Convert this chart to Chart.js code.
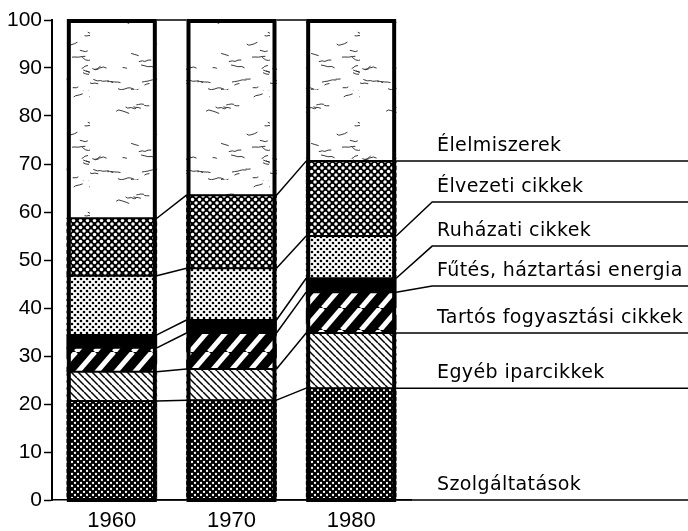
<!DOCTYPE html>
<html>
<head>
<meta charset="utf-8">
<script src="https://cdn.jsdelivr.net/npm/chart.js@4.4.1/dist/chart.umd.min.js"></script>
<style>
    html, body { margin: 0; padding: 0; background: #fff; }
    #caixa { width: 688px; height: 531px; position: relative; }
</style>
</head>
<body>
<div id="caixa"><canvas id="grafico"></canvas></div>
<script>
// dados (% do consumo), de baixo para cima
const anos = ["1960", "1970", "1980"];
const categorias = ["Szolgáltatások", "Egyéb iparcikkek", "Tartós fogyasztási cikkek",
    "Fűtés, háztartási energia", "Ruházati cikkek", "Élvezeti cikkek", "Élelmiszerek"];
const szolgaltatasok = [20.6, 20.8, 23.3];
const egyebIparcikkek = [6.1, 6.5, 11.5];
const tartosCikkek = [5.0, 7.5, 8.5];
const futesEnergia = [2.7, 2.7, 2.9];
const ruhazatiCikkek = [12.3, 10.8, 8.8];
const elvezetiCikkek = [12.0, 15.2, 15.6];
const elelmiszerek = [41.3, 36.5, 29.4];
const ticksY = [0, 10, 20, 30, 40, 50, 60, 70, 80, 90, 100];

const series = [szolgaltatasok, egyebIparcikkek, tartosCikkek, futesEnergia,
    ruhazatiCikkek, elvezetiCikkek, elelmiszerek];

// altura (na escala do eixo) da linha de cada rótulo à direita
const nivelRotulo = [0, 23.3, 34.8, 44.6, 52.9, 62.1, 70.6];

// ---- texturas ----
function textura(w, h, desenhar) {
    const c = document.createElement("canvas");
    c.width = w;
    c.height = h;
    const g = c.getContext("2d");
    desenhar(g, w, h);
    return g.createPattern(c, "repeat");
}

function pontos(g, t, r, cor) {
    g.fillStyle = cor;
    [[0, 0], [t, 0], [0, t], [t, t], [t / 2, t / 2]].forEach(p => {
        g.beginPath();
        g.arc(p[0], p[1], r, 0, Math.PI * 2);
        g.fill();
    });
}

const padroes = [
    // Szolgáltatások
    textura(6, 6, (g, w) => {
        g.fillStyle = "#000"; g.fillRect(0, 0, w, w);
        pontos(g, w, 1.15, "#fff");
    }),
    // Egyéb iparcikkek
    textura(7, 7, (g, w, h) => {
        g.fillStyle = "#fff"; g.fillRect(0, 0, w, h);
        g.strokeStyle = "#000"; g.lineWidth = 1.5;
        for (let k = -1; k <= 1; k++) {
            g.beginPath(); g.moveTo(k * w, 0); g.lineTo(k * w + w, h); g.stroke();
        }
    }),
    // Tartós fogyasztási cikkek
    textura(19, 22, (g, w, h) => {
        g.fillStyle = "#000"; g.fillRect(0, 0, w, h);
        g.strokeStyle = "#fff"; g.lineWidth = 5;
        for (let k = -1; k <= 1; k++) {
            g.beginPath(); g.moveTo(k * w, h); g.lineTo(k * w + w, 0); g.stroke();
        }
    }),
    // Fűtés
    "#000",
    // Ruházati cikkek
    textura(6, 6, (g, w) => {
        g.fillStyle = "#fff"; g.fillRect(0, 0, w, w);
        pontos(g, w, 1.35, "#000");
    }),
    // Élvezeti cikkek
    textura(7, 7, (g, w) => {
        g.fillStyle = "#000"; g.fillRect(0, 0, w, w);
        pontos(g, w, 1.75, "#fff");
    }),
    // Élelmiszerek: rabiscos esparsos
    textura(90, 90, (g, w, h) => {
        g.fillStyle = "#fff"; g.fillRect(0, 0, w, h);
        g.strokeStyle = "#222"; g.lineWidth = 0.9;
        let s = 7;
        const rnd = () => { s = (s * 16807) % 2147483647; return s / 2147483647; };
        for (let i = 0; i < 34; i++) {
            let x = rnd() * w, y = rnd() * h;
            g.beginPath(); g.moveTo(x, y);
            const n = 2 + Math.floor(rnd() * 4);
            for (let j = 0; j < n; j++) {
                x += 1.5 + rnd() * 2.5;
                y += (rnd() - 0.5) * 3;
                g.lineTo(x, y);
            }
            g.stroke();
        }
    })
];

// ---- contornos, ligações e rótulos ----
const contornos = {
    id: "contornos",
    afterDatasetsDraw(chart) {
        const ctx = chart.ctx;
        const eixoY = chart.scales.y;
        const base = chart.getDatasetMeta(0).data;
        const bordas = base.map(el => ({ esq: el.x - el.width / 2, dir: el.x + el.width / 2 }));
        const acum = anos.map((_, j) => {
            let soma = 0;
            const lista = [0];
            series.forEach(s => { soma += s[j]; lista.push(soma); });
            return lista;
        });
        const py = v => eixoY.getPixelForValue(v);
        const linha = (x1, y1, x2, y2) => {
            ctx.beginPath(); ctx.moveTo(x1, y1); ctx.lineTo(x2, y2); ctx.stroke();
        };

        ctx.save();
        ctx.strokeStyle = "#000";

        // separadores dentro das barras
        ctx.lineWidth = 2;
        acum.forEach((lista, j) => {
            lista.forEach((v, k) => {
                if (k === 0 || k === lista.length - 1) return;
                linha(bordas[j].esq, py(v), bordas[j].dir, py(v));
            });
        });

        // ligações entre as barras
        ctx.lineWidth = 1.5;
        for (let j = 0; j < anos.length - 1; j++) {
            acum[j].forEach((v, k) => {
                linha(bordas[j].dir, py(v), bordas[j + 1].esq, py(acum[j + 1][k]));
            });
        }

        // linhas dos rótulos
        const ult = anos.length - 1;
        const joelho = bordas[ult].dir + 36;
        ctx.font = "19px 'DejaVu Sans'";
        ctx.letterSpacing = "0.4px";
        ctx.fillStyle = "#000";
        ctx.textBaseline = "alphabetic";
        categorias.forEach((nome, c) => {
            const y0 = py(acum[ult][c]);
            const y1 = py(nivelRotulo[c]);
            ctx.beginPath();
            ctx.moveTo(bordas[ult].dir, y0);
            ctx.lineTo(joelho, y1);
            ctx.lineTo(chart.width, y1);
            ctx.stroke();
            ctx.fillText(nome, 437, y1 - 10);
        });

        // contorno grosso das barras
        ctx.lineWidth = 4;
        bordas.forEach(b => {
            ctx.strokeRect(b.esq + 2, py(100) + 1, b.dir - b.esq - 4, py(0) - py(100) - 1);
        });
        ctx.restore();
    }
};

new Chart(document.getElementById("grafico"), {
    type: "bar",
    data: {
        labels: anos,
        datasets: series.map((valores, i) => ({
            label: categorias[i],
            data: valores,
            backgroundColor: padroes[i],
            borderWidth: 0,
            barThickness: 90
        }))
    },
    options: {
        responsive: true,
        maintainAspectRatio: false,
        animation: false,
        layout: { padding: { left: 8, right: 277, top: 20, bottom: 0 } },
        plugins: { legend: { display: false }, tooltip: { enabled: false } },
        scales: {
            x: {
                stacked: true,
                grid: { display: false, drawTicks: false },
                border: { display: true, color: "#000", width: 1.5 },
                ticks: { color: "#000", padding: 8, font: { family: "Liberation Sans", size: 22 } },
                afterFit(scale) { scale.height = 31; }
            },
            y: {
                stacked: true,
                min: 0,
                max: 100,
                afterBuildTicks(scale) { scale.ticks = ticksY.map(v => ({ value: v })); },
                grid: { drawOnChartArea: false, tickLength: 8, tickColor: "#000", tickWidth: 1.5 },
                border: { display: true, color: "#000", width: 2 },
                ticks: { color: "#000", padding: 2, font: { family: "Liberation Sans", size: 21 } },
                afterFit(scale) { scale.width = 44; }
            }
        }
    },
    plugins: [contornos]
});
</script>
</body>
</html>
